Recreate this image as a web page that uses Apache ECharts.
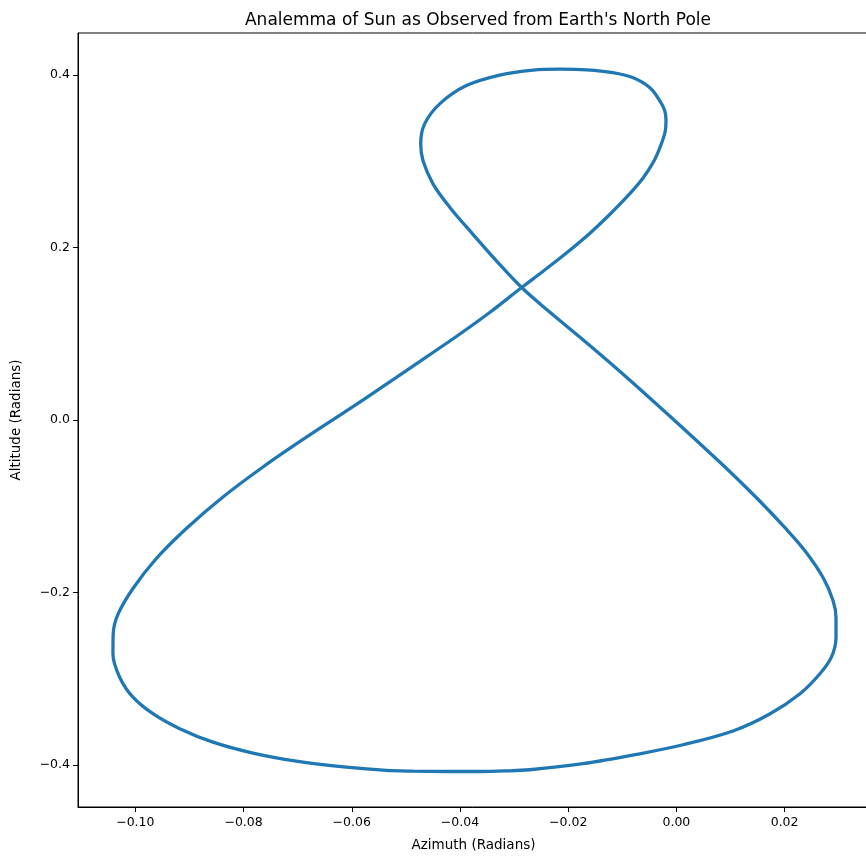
<!DOCTYPE html>
<html>
<head>
<meta charset="utf-8">
<script src="https://cdn.jsdelivr.net/npm/echarts@6/dist/echarts.min.js"></script>
<style>html,body{margin:0;padding:0;background:#fff}#c{width:866px;height:857px}</style>
</head>
<body>
<div id="c"></div>
<script>
// Traced points of the analemma (radians), in drawing order
const azimuth = [-0.04190,-0.03636,-0.03174,-0.02712,-0.01726,-0.00739,0.00122,0.01046,0.01725,0.02279,0.02649,0.02865,0.02950,0.02950,0.02895,0.02710,0.02372,0.02002,0.01540,0.00985,0.00431,-0.00124,-0.00678,-0.01233,-0.01787,-0.02342,-0.02860,-0.03322,-0.03760,-0.04190,-0.04499,-0.04684,-0.04726,-0.04653,-0.04375,-0.03882,-0.03266,-0.02651,-0.02157,-0.01658,-0.01177,-0.00808,-0.00494,-0.00309,-0.00216,-0.00192,-0.00207,-0.00290,-0.00420,-0.00623,-0.00900,-0.01233,-0.01603,-0.02033,-0.02434,-0.02860,-0.03451,-0.04067,-0.04991,-0.05915,-0.06839,-0.07641,-0.08381,-0.09057,-0.09612,-0.10044,-0.10322,-0.10410,-0.10414,-0.10290,-0.10044,-0.09675,-0.09181,-0.08566,-0.07826,-0.07024,-0.06100,-0.05360,-0.04869,-0.04190];
const altitude = [-0.4078,-0.4078,-0.4072,-0.4058,-0.3988,-0.3880,-0.3768,-0.3608,-0.3411,-0.3179,-0.2947,-0.2752,-0.2523,-0.2291,-0.2094,-0.1827,-0.1514,-0.1247,-0.0940,-0.0597,-0.0273,0.0046,0.0360,0.0667,0.0963,0.1253,0.1537,0.1843,0.2154,0.2469,0.2740,0.3010,0.3204,0.3436,0.3668,0.3880,0.4002,0.4060,0.4070,0.4063,0.4031,0.3973,0.3857,0.3706,0.3591,0.3474,0.3347,0.3184,0.2999,0.2802,0.2599,0.2384,0.2164,0.1937,0.1740,0.1537,0.1247,0.0969,0.0574,0.0180,-0.0200,-0.0545,-0.0893,-0.1259,-0.1607,-0.1955,-0.2256,-0.2488,-0.2712,-0.2984,-0.3216,-0.3408,-0.3582,-0.3738,-0.3865,-0.3958,-0.4028,-0.4066,-0.4074,-0.4078];
const xTicks = [-0.10,-0.08,-0.06,-0.04,-0.02,0.00,0.02];
const yTicks = [-0.4,-0.2,0.0,0.2,0.4];
const titleText = "Analemma of Sun as Observed from Earth's North Pole";
const xName = "Azimuth (Radians)";
const yName = "Altitude (Radians)";

const points = azimuth.map((x, i) => [x, altitude[i]]);
const FONT = "DejaVu Sans";
const fmt = (v, d) => { const s = Math.abs(v).toFixed(d); return (v < -1e-9 ? "\u2212" : "") + s; };

const chart = echarts.init(document.getElementById('c'), null, {renderer: 'canvas'});
chart.setOption({
  animation: false,
  backgroundColor: '#ffffff',
  title: {
    text: titleText, left: 473, top: 7, textAlign: 'center',
    textStyle: {fontFamily: FONT, fontSize: 17, fontWeight: 'normal', color: '#000'}
  },
  grid: {
    left: 78, top: 33, width: 791, height: 774,
    show: true, borderColor: '#000', borderWidth: 1, backgroundColor: 'transparent',
    outerBoundsMode: 'none', containLabel: false
  },
  xAxis: {
    type: 'value', min: -0.1106, max: 0.0356,
    name: xName, nameLocation: 'middle', nameGap: 31,
    nameTextStyle: {fontFamily: FONT, fontSize: 13.5, color: '#000'},
    axisLine: {show: true, onZero: false, lineStyle: {color: '#000', width: 1}},
    axisTick: {show: true, length: 5, inside: false, customValues: xTicks, lineStyle: {color: '#000'}},
    axisLabel: {show: true, customValues: xTicks, margin: 9, fontFamily: FONT, fontSize: 12.5, color: '#000', formatter: v => fmt(v, 2)},
    splitLine: {show: false}
  },
  yAxis: {
    type: 'value', min: -0.449, max: 0.449,
    name: yName, nameLocation: 'middle', nameGap: 55, nameRotate: 90,
    nameTextStyle: {fontFamily: FONT, fontSize: 13.5, color: '#000'},
    axisLine: {show: true, onZero: false, lineStyle: {color: '#000', width: 1}},
    axisTick: {show: true, length: 5, inside: false, customValues: yTicks, lineStyle: {color: '#000'}},
    axisLabel: {show: true, customValues: yTicks, margin: 8, fontFamily: FONT, fontSize: 12.5, color: '#000', formatter: v => fmt(v, 1)},
    splitLine: {show: false}
  },
  series: [{
    type: 'line', data: points, showSymbol: false, smooth: 0.35,
    lineStyle: {color: '#1f77b4', width: 3.3}, itemStyle: {color: '#1f77b4'},
    clip: true
  }]
});
</script>
</body>
</html>
